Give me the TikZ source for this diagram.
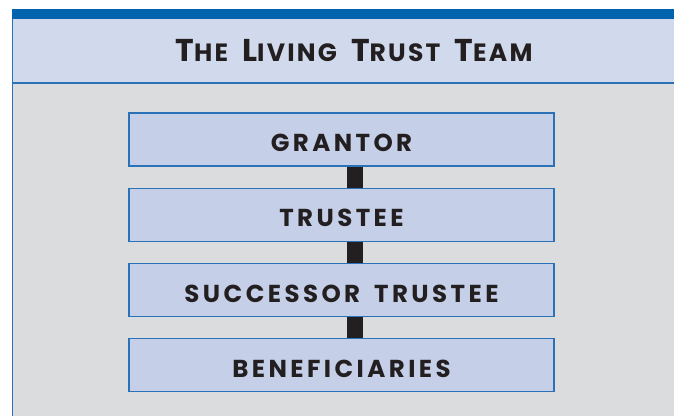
\documentclass[tikz,border=0pt]{standalone}
\usepackage{fontspec}
\setsansfont{Poppins}
\usetikzlibrary{positioning}
\definecolor{bar}{HTML}{0063AE}
\definecolor{header}{HTML}{D0DAEC}
\definecolor{body}{HTML}{DBDCDE}
\definecolor{boxfill}{HTML}{C5CFE7}
\definecolor{boxline}{HTML}{2B71B8}
\definecolor{link}{HTML}{231F20}

\newcommand{\capbig}[1]{{\fontsize{31.5}{31.5}\selectfont #1}}
\newcommand{\capsmall}[1]{{\fontsize{25}{25}\selectfont #1}}
\newcommand{\memberfont}{\sffamily\bfseries\fontsize{24.5}{24.5}\selectfont
  \addfontfeatures{LetterSpace=14}\setlength{\spaceskip}{14pt}}
\newcommand{\titlefont}{\sffamily\bfseries\fontsize{25}{25}\selectfont
  \addfontfeatures{LetterSpace=9}\setlength{\spaceskip}{14pt}}

\begin{document}
\begin{tikzpicture}[x=1pt,y=-1pt,font=\sffamily\bfseries,
  member/.style={draw=boxline,fill=boxfill,line width=1.2pt,
    minimum width=425pt,minimum height=53pt,inner sep=0pt,
    text height=24.5pt,text depth=0pt,text=link,font=\memberfont}]
\useasboundingbox (0,0) rectangle (674,415);
\clip (0,0) rectangle (674,415);

% Panel:
\begin{scope}
\fill [body] (12,83) rectangle (700,420);
\fill [header] (12,19) rectangle (700,83);
\fill [bar] (12,9) rectangle (700,19);
\draw [boxline,line width=1.2pt] (12.5,19) -- (12.5,420);
\draw [boxline,line width=1.2pt] (12,83) -- (700,83);
\end{scope}

% Title:
\node [anchor=base,text=link,font=\titlefont] (title) at (354,61)
  {\capbig{T}\capsmall{HE} \capbig{L}\capsmall{IVING} \capbig{T}\capsmall{RUST} \capbig{T}\capsmall{EAM}};

% Team members:
\node [member] (grantor) at (341.5,139.5) {GRANTOR};
\node [member,below=21pt of grantor] (trustee) {TRUSTEE};
\node [member,below=21pt of trustee] (successor) {SUCCESSOR TRUSTEE};
\node [member,below=21pt of successor] (beneficiaries) {BENEFICIARIES};

% Links between members
\begin{scope}[every path/.style={draw,link,line width=16pt}]
\path ([xshift=13pt]grantor.south) -- ([xshift=13pt]trustee.north);
\path ([xshift=13pt]trustee.south) -- ([xshift=13pt]successor.north);
\path ([xshift=13pt]successor.south) -- ([xshift=13pt]beneficiaries.north);
\end{scope}
\end{tikzpicture}
\end{document}
